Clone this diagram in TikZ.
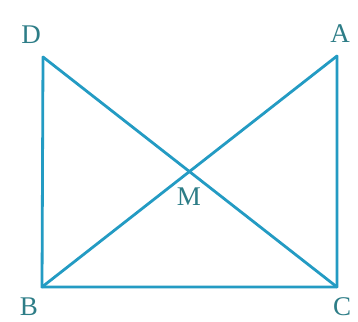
\documentclass[tikz,border=0pt]{standalone}
\usepackage{fontspec}
\setmainfont{Liberation Serif}
\definecolor{edgec}{RGB}{35,155,195}
\definecolor{labc}{RGB}{45,125,135}
\begin{document}
\begin{tikzpicture}[x=1pt,y=-1pt,
  edge/.style={draw=edgec,line width=2.8pt,line cap=round,line join=round},
  lab/.style={text=labc,font=\fontsize{27}{27}\selectfont,inner sep=0pt,text depth=0pt}]
\useasboundingbox[fill=white] (0,0) rectangle (358,321);
\coordinate (D) at (43,57);
\coordinate (A) at (337,56);
\coordinate (B) at (42,287);
\coordinate (C) at (337,287);
\draw[edge] (D) -- (B) -- (C) -- (A);
\draw[edge] (D) -- (C);
\draw[edge] (A) -- (B);
\node[lab] (lD) at (31,35) {D};
\node[lab] (lA) at (340,34) {A};
\node[lab] (lB) at (29,307) {B};
\node[lab] (lC) at (342,307) {C};
\node[lab] (lM) at (189,197) {M};
\end{tikzpicture}
\end{document}
